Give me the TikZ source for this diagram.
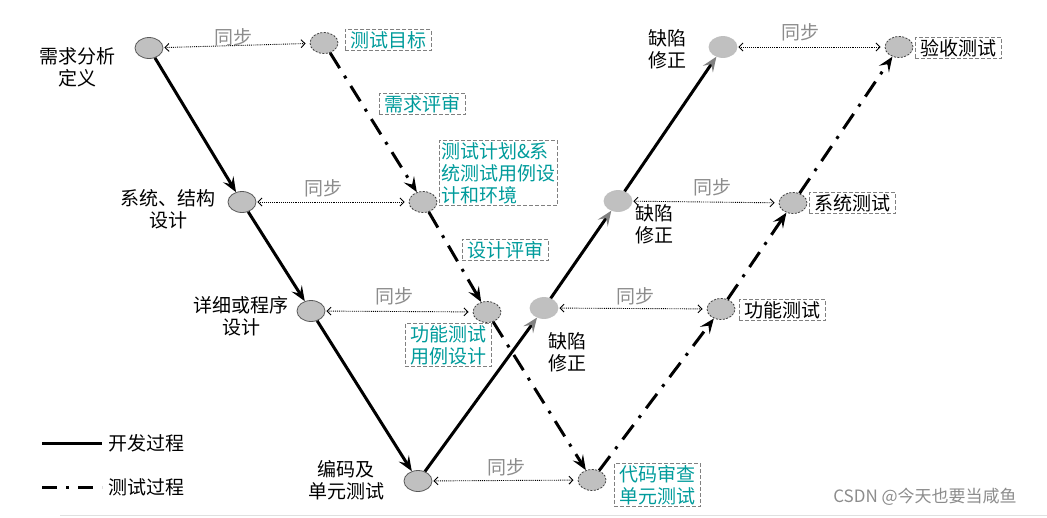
\documentclass[tikz,border=0pt]{standalone}
\usepackage{fontspec}
\setmainfont{Noto Sans CJK SC}
\usetikzlibrary{arrows.meta,shapes.geometric}
\definecolor{tealc}{RGB}{0,155,155}
\definecolor{stagefill}{RGB}{192,192,192}
\begin{document}
\begin{tikzpicture}[x=1pt,y=-1pt,
  stage/.style={ellipse, fill=stagefill, draw=black!75, dash pattern=on 2pt off 1.5pt, line width=0.8pt, minimum width=28pt, minimum height=21pt, inner sep=0pt},
  devstage/.style={stage, solid, draw=black!65},
  fixstage/.style={stage, solid, draw=black!25},
  lbl/.style={font=\fontsize{19}{22}\selectfont, align=center, inner sep=0pt},
  tbox/.style={draw=gray, dash pattern=on 4pt off 2pt, line width=0.8pt, text=tealc, inner xsep=5pt, inner ysep=2pt, align=left, font=\fontsize{19}{22}\selectfont},
  kbox/.style={tbox, text=black},
  dev/.style={line width=3pt, -{Stealth[length=15pt,width=12pt,inset=6pt]}},
  devup/.style={line width=3pt, -{Stealth[length=15pt,width=12pt,inset=6pt,color=gray]}},
  testp/.style={line width=3pt, dash pattern=on 18pt off 9pt on 3pt off 9pt, -{Stealth[length=15pt,width=12pt,inset=6pt]}},
  sync/.style={densely dotted, line width=0.9pt, {Straight Barb[length=4pt,width=8pt]}-{Straight Barb[length=4pt,width=8pt]}, shorten <=1pt, shorten >=4pt},
  synlbl/.style={text=black!45, font=\fontsize{19}{22}\selectfont, inner sep=0pt}
]
\useasboundingbox (0,0) rectangle (1047,517);

% development stages
\node[devstage] (A) at (149,48) {};
\node[devstage] (B) at (242,202) {};
\node[devstage] (C) at (311,311) {};
\node[devstage] (D) at (418,481) {};
\node[fixstage] (E) at (544,308) {};
\node[fixstage] (F) at (618,201) {};
\node[fixstage] (G) at (723,47) {};
% test stages
\node[stage] (T1) at (324,43) {};
\node[stage] (T2) at (423,202) {};
\node[stage] (T3) at (487,312) {};
\node[stage] (T4) at (592,480) {};
\node[stage] (T5) at (721,309) {};
\node[stage] (T6) at (793,203) {};
\node[stage] (T7) at (899,47) {};

% labels of development stages
\node[lbl] (lA) at (77,67) {需求分析\\定义};
\node[lbl] (lB) at (168,209) {系统、结构\\设计};
\node[lbl] (lC) at (241,316) {详细或程序\\设计};
\node[lbl] (lD) at (346,480) {编码及\\单元测试};
\node[lbl] (lE) at (567,352) {缺陷\\修正};
\node[lbl] (lF) at (654,224) {缺陷\\修正};
\node[lbl] (lG) at (667,49) {缺陷\\修正};

% boxes of test stages
\node[tbox] (b1) at (388,40) {测试目标};
\node[tbox] (r1) at (422,104) {需求评审};
\node[tbox, inner xsep=2pt] (b2) at (498,173) {测试计划\&系\\统测试用例设\\计和环境};
\node[tbox] (r2) at (505,250) {设计评审};
\node[tbox] (b3) at (448,345) {功能测试\\用例设计};
\node[tbox] (b4) at (657,485) {代码审查\\单元测试};
\node[kbox] (b5) at (782,310) {功能测试};
\node[kbox] (b6) at (852,203) {系统测试};
\node[kbox] (b7) at (958,48) {验收测试};

% development process
\draw[dev] (A) -- (B);
\draw[dev] (B) -- (C);
\draw[dev] (C) -- (D);
\draw[devup] (D) -- (E);
\draw[devup] (E) -- (F);
\draw[devup] (F) -- (G);

% test process
\draw[testp] (T1) -- (T2);
\draw[testp] (T2) -- (T3);
\draw[testp] (T3) -- (T4);
\draw[testp] (T4) -- (T5);
\draw[testp] (T5) -- (T6);
\draw[testp] (T6) -- (T7);

% synchronisation
\draw[sync] (A) -- (T1);
\draw[sync] (B) -- (T2);
\draw[sync] (C) -- (T3);
\draw[sync] (D) -- (T4);
\draw[sync] (E) -- (T5);
\draw[sync] (F) -- (T6);
\draw[sync] (G) -- (T7);
\node[synlbl] (s1) at (233,37) {同步};
\node[synlbl] (s2) at (323,188) {同步};
\node[synlbl] (s3) at (394,296) {同步};
\node[synlbl] (s4) at (506,467) {同步};
\node[synlbl] (s5) at (635,296) {同步};
\node[synlbl] (s6) at (712,187) {同步};
\node[synlbl] (s7) at (800,32) {同步};

% legend
\coordinate (L1a) at (42,443);
\coordinate (L1b) at (102,443);
\coordinate (L2a) at (42,487);
\coordinate (L2b) at (102,487);
\draw[line width=3pt] (L1a) -- (L1b);
\draw[line width=3pt, dash pattern=on 15pt off 9pt on 3pt off 9pt] (L2a) -- (L2b);
\node[lbl, anchor=west] (leg1) at (108,443) {开发过程};
\node[lbl, anchor=west] (leg2) at (108,487) {测试过程};

% footer
\coordinate (f1) at (60,515);
\coordinate (f2) at (1047,515);
\draw[black!12, line width=0.8pt] (f1) -- (f2);
\node[text=black!45, font=\fontsize{17}{20}\selectfont, inner sep=0pt] (wm) at (925,497) {CSDN @今天也要当咸鱼};
\end{tikzpicture}
\end{document}
